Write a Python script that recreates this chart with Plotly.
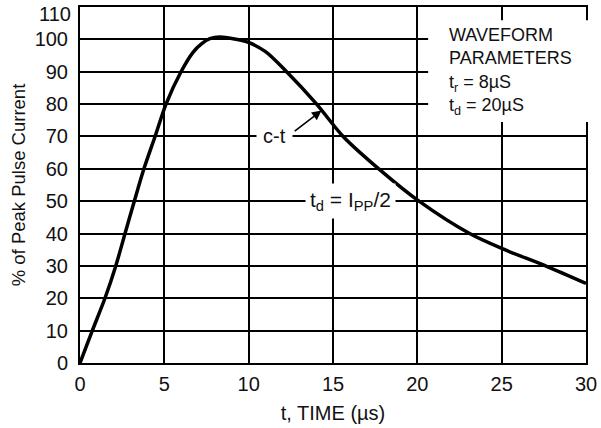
import plotly.graph_objects as go

# Data
time_us = [0, 0.73, 1.48, 2.12, 2.67, 3.22, 3.79, 4.45, 5.10, 5.99, 6.7, 7.2, 7.7, 8.3,
           9.9, 11.0, 12.25, 14.03, 15.6, 17.8, 20.1, 23.1, 25.0, 27.7, 30.0]
pct_peak = [0, 10, 20, 30, 40, 50, 60, 70, 80, 90, 96.0, 98.6, 100.2, 100.7,
            99.2, 96.2, 90, 80, 70, 59.6, 50, 40, 35.4, 29.8, 24.6]

x_ticks = [0, 5, 10, 15, 20, 25, 30]
y_ticks = [0, 10, 20, 30, 40, 50, 60, 70, 80, 90, 100, 110]

FONT = "Liberation Sans, Arial, sans-serif"
INK = "#111111"

fig = go.Figure()
fig.add_trace(go.Scatter(x=time_us, y=pct_peak, mode="lines",
                         line=dict(color="black", width=3.5, shape="spline", smoothing=0.8),
                         hoverinfo="skip", showlegend=False))

# White box behind the parameters text (covers grid and border like the reference)
fig.add_shape(type="rect", xref="paper", yref="paper", x0=0.688, x1=1.006, y0=0.677, y1=0.963,
              fillcolor="white", line=dict(width=0), layer="above")
fig.add_annotation(x=21.74, y=90.0, xanchor="left", yanchor="middle", align="left",
                   text="WAVEFORM<br>PARAMETERS<br>t<sub>r</sub> = 8µS<br>t<sub>d</sub> = 20µS",
                   showarrow=False, font=dict(family=FONT, size=18, color=INK))

# c-t label with arrow
fig.add_annotation(x=11.56, y=70, text="c-t", showarrow=False, bgcolor="white", borderpad=6,
                   font=dict(family=FONT, size=20, color=INK))
fig.add_annotation(x=14.32, y=78.0, ax=12.64, ay=71.3, axref="x", ayref="y", text="",
                   showarrow=True, arrowhead=2, arrowsize=1.2, arrowwidth=1.6, arrowcolor="black",
                   standoff=0)

# td label
fig.add_annotation(x=16.05, y=50, text="t<sub>d</sub> = I<sub>PP</sub>/2", showarrow=False,
                   bgcolor="white", borderpad=4, font=dict(family=FONT, size=21, color=INK))

# top y tick label sits slightly lower in the reference
y_ticktext = [str(v) for v in y_ticks[:-1]] + [""]
fig.add_annotation(xref="paper", yref="paper", x=0, y=1, xanchor="right", yanchor="middle",
                   xshift=-7, yshift=-6.5, text=str(y_ticks[-1]), showarrow=False,
                   font=dict(family=FONT, size=20, color=INK))

axis_common = dict(showline=True, linecolor="black", linewidth=2, mirror=True,
                   showgrid=True, gridcolor="black", gridwidth=2, zeroline=False,
                   ticks="", ticklabeloverflow="allow",
                   tickfont=dict(family=FONT, size=20, color=INK))

fig.update_xaxes(range=[0, 30], tickvals=x_ticks, ticklabelstandoff=2,
                 title=dict(text="t, TIME (µs)", font=dict(family=FONT, size=20, color=INK), standoff=12),
                 **axis_common)
fig.update_yaxes(range=[0, 110], tickvals=y_ticks, ticktext=y_ticktext, ticklabelstandoff=6,
                 title=dict(text="% of Peak Pulse Current", font=dict(family=FONT, size=18.5, color=INK), standoff=4),
                 **axis_common)

fig.update_layout(width=601, height=428, margin=dict(l=80, r=15, t=7, b=65, autoexpand=False),
                  paper_bgcolor="white", plot_bgcolor="white")

fig.write_html("out.html", config={"displayModeBar": False},
               post_script="document.body.style.margin='0px';")
